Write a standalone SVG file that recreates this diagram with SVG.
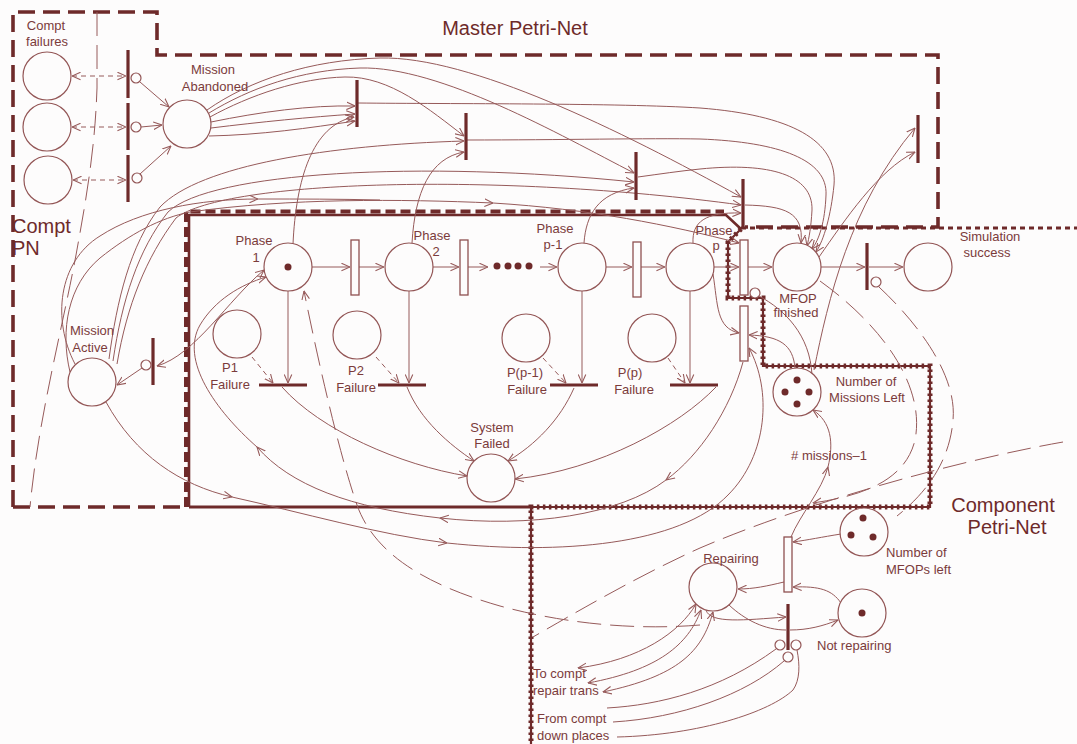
<svg xmlns="http://www.w3.org/2000/svg" width="1077" height="744" viewBox="0 0 1077 744">
<defs>
<marker id="ar" viewBox="0 0 10 10" refX="9.5" refY="5" markerWidth="9" markerHeight="9" markerUnits="userSpaceOnUse" orient="auto-start-reverse"><path d="M0,0.8 L9.5,5 L0,9.2" fill="none" stroke="#965a5a" stroke-width="1.2"/></marker>
</defs>
<style>
.c{fill:none;stroke:#965a5a;stroke-width:1}
.a{marker-end:url(#ar)}
.b{marker-start:url(#ar);marker-end:url(#ar)}
.d{stroke-dasharray:5 4}
.ld{stroke-dasharray:24 9}
.pl{fill:#fdfcfc;stroke:#935656;stroke-width:1.2}
.tb{stroke:#6e2a2a;stroke-width:3.2;fill:none}
.tr{fill:#fdfcfc;stroke:#8f5050;stroke-width:1.3}
.inh{fill:#fdfcfc;stroke:#935656;stroke-width:1.2}
.tok{fill:#6e2a2a}
.bd{fill:none;stroke:#6e2a2a;stroke-width:3.6;stroke-dasharray:17 8}
.bs{fill:none;stroke:#6e2a2a;stroke-width:2.6}
.bdi{fill:none;stroke:#6e2a2a;stroke-width:4;stroke-dasharray:10 5}
.dt{fill:none;stroke:#6e2a2a;stroke-width:5;stroke-dasharray:2.5 3.5}
.dl{fill:none;stroke:#6e2a2a;stroke-width:3;stroke-dasharray:5 4}
.t{font-family:"Liberation Sans",Arial,sans-serif;font-size:13px;fill:#7b3b3b;text-anchor:middle}
.s{text-anchor:start}
.big{font-family:"Liberation Sans",Arial,sans-serif;font-size:20px;fill:#6e2a2a}
</style>
<rect width="1077" height="744" fill="#fdfcfc"/>

<g id="boundaries">
<path class="bd" d="M13,507 V12 H157 V55 H938 V227 H745"/>
<path class="bd" d="M13,507 H186"/>
<path class="bs" d="M189,507 V215 H726 L741,229"/>
<path class="bdi" d="M186,507 V211.5 H724"/>
<path class="bs" style="stroke-width:3" d="M189,507 H531"/>
<path class="bs" style="stroke-width:2.2" d="M741,229 L728,242 V298 H763 V366 H930 V507 H531 V744"/>
<path class="dt" d="M741,229 L728,242 V298 H763 V366 H930 V507 H531 V744"/>
<path class="dl" d="M741,228 H1077"/>
</g>

<g id="connectors">
<path class="c d b" d="M72,76 H126"/>
<path class="c d b" d="M72,127 H126"/>
<path class="c d b" d="M73,180 H126"/>
<path class="c a" d="M140,82 L169,107"/>
<path class="c a" d="M141,127 L162,125"/>
<path class="c a" d="M140,174 L171,146"/>
<path class="c ld" d="M97,12 V88 C95,150 86,200 76,255 C62,330 38,420 30,507"/>
<path class="c a" d="M211,122 C260,112 310,105 355,106"/>
<path class="c a" d="M211,128 C260,122 310,117 355,114"/>
<path class="c a" d="M209,136 C260,135 310,128 355,121"/>
<path class="c a" d="M210,117 C250,95 300,78 345,77 C390,76 430,110 464,136"/>
<path class="c a" d="M209,113 C250,88 300,70 360,68 C440,66 560,135 634,173"/>
<path class="c a" d="M207,110 C250,80 310,60 380,58 C470,56 620,130 741,197"/>
<path class="c a" d="M358,103 C450,104 620,103 700,108 C790,115 838,140 834,185 C831,215 824,240 816,252"/>
<path class="c a" d="M467,140 C560,140 650,138 700,139 C780,142 828,160 826,195 C825,222 819,240 812,249"/>
<path class="c a" d="M638,177 C660,174 680,171 700,169 C770,162 813,175 812,210 C811,228 809,238 807,246"/>
<path class="c a" d="M745,205 C785,206 804,212 801,243"/>
<path class="c a" d="M293,244 C296,180 312,125 354,117"/>
<path class="c a" d="M412,243 C415,192 430,158 464,152"/>
<path class="c a" d="M584,243 C586,215 598,193 634,188"/>
<path class="c a" d="M693,243 C692,222 705,212 741,213"/>
<path class="c a" d="M819,257 C845,220 878,170 915,152"/>
<path class="c a" d="M814,370 C828,300 850,205 915,128"/>
<path class="c a" d="M109,359 C117,300 130,245 160,207 C200,165 330,145 464,141"/>
<path class="c a" d="M113,361 C122,300 138,250 168,212 C210,172 420,160 634,182"/>
<path class="c a" d="M117,364 C127,305 146,258 176,218 C225,180 500,172 741,205"/>
<path class="c a" d="M70,372 C60,330 68,285 100,258 C130,234 160,218 190,212 C290,198 400,199 493,203"/>
<path class="c a" d="M493,203 C590,209 670,225 739,243"/>
<path class="c a" d="M75,364 C52,320 58,262 100,236 C140,210 200,199 258,199"/>
<path class="c" d="M258,199 C300,199 340,199 380,200"/>
<path class="c b" d="M157,366 C195,355 228,300 264,270"/>
<path class="c a" d="M142,368 L117,385"/>
<path class="c a" d="M106,402 C135,455 180,485 232,497"/>
<path class="c a" d="M232,497 C300,512 380,535 447,543"/>
<path class="c a" d="M447,543 C560,555 680,545 728,495 C768,455 772,390 749,348"/>
<path class="c a" d="M743,362 C730,410 700,455 666,480"/>
<path class="c a" d="M666,480 C620,515 530,528 440,518"/>
<path class="c a" d="M440,518 C350,508 290,485 257,447"/>
<path class="c a" d="M257,447 C215,410 180,360 200,325 C215,300 240,285 266,277"/>
<path class="c a" d="M312,267 H350"/>
<path class="c a" d="M359,267 H384"/>
<path class="c a" d="M433,267 H459"/>
<path class="c a" d="M468,267 H488"/>
<path class="c a" d="M540,267 H557"/>
<path class="c a" d="M606,267 H632"/>
<path class="c a" d="M641,267 H665"/>
<path class="c a" d="M714,267 H739"/>
<path class="c a" d="M748,267 H772"/>
<path class="c a" d="M821,267 H865"/>
<path class="c a" d="M869,267 H903"/>
<path class="c a" d="M288,291 V383"/>
<path class="c a" d="M409,291 V383"/>
<path class="c a" d="M582,291 V383"/>
<path class="c a" d="M690,291 V383"/>
<path class="c d a" d="M252,357 L273,383"/>
<path class="c d a" d="M376,357 L399,383"/>
<path class="c d a" d="M543,358 L566,383"/>
<path class="c d a" d="M668,358 L685,383"/>
<path class="c a" d="M282,387 C320,430 400,465 467,476"/>
<path class="c a" d="M407,387 C420,420 450,445 474,461"/>
<path class="c a" d="M574,388 C560,420 535,445 508,461"/>
<path class="c a" d="M716,387 C680,425 600,470 515,479"/>
<path class="c a" d="M713,274 C718,305 716,328 739,333"/>
<path class="c a" d="M795,368 C793,345 780,336 749,335"/>
<path class="c" d="M812,375 C810,335 785,310 759,296"/>
<path class="c a" d="M791,537 C800,515 822,490 828,467"/>
<path class="c a" d="M828,467 C834,442 831,422 813,410"/>
<path class="c a" d="M784,582 C767,586 754,589 738,589"/>
<path class="c a" d="M841,534 C822,537 808,540 793,542"/>
<path class="c a" d="M841,603 C832,590 820,586 793,587"/>
<path class="c a" d="M706,610 C710,624 745,620 786,617"/>
<path class="c" d="M729,605 C745,620 765,630 786,630"/>
<path class="c a" d="M790,630 C808,630 823,626 838,620"/>
<path class="c b" d="M578,668 C640,660 680,632 696,604"/>
<path class="c b" d="M588,683 C658,670 688,645 701,610"/>
<path class="c b" d="M603,692 C678,676 702,652 713,612"/>
<path class="c" d="M607,708 C660,705 720,690 776,649"/>
<path class="c" d="M613,722 C680,718 745,695 784,661"/>
<path class="c" d="M617,737 C700,735 770,712 793,690 C800,680 800,665 797,650"/>
<path class="c ld a" d="M700,625 C640,630 570,625 500,606 C430,586 375,556 357,505 C342,462 322,380 304,291"/>
<path class="c ld" d="M1063,442 C950,462 800,505 700,548 C640,575 580,610 533,637"/>
<path class="c ld a" d="M820,281 C888,330 925,390 915,440 C905,482 860,496 813,503"/>
<path class="c ld" d="M879,287 C925,330 957,380 953,420 C950,458 930,490 897,516"/>
</g>

<g id="compt-failures">
<circle class="pl" cx="47" cy="76" r="24"/>
<circle class="pl" cx="47" cy="127" r="24"/>
<circle class="pl" cx="48" cy="180" r="24"/>
<text class="t" x="46" y="30">Compt</text>
<text class="t" x="47" y="46">failures</text>
</g>
<g id="compt-failure-transitions">
<line class="tb" x1="128" y1="50" x2="128" y2="98"/>
<line class="tb" x1="128" y1="103" x2="128" y2="150"/>
<line class="tb" x1="128" y1="155" x2="128" y2="202"/>
<circle class="inh" cx="136" cy="78" r="5"/>
<circle class="inh" cx="136" cy="127" r="5"/>
<circle class="inh" cx="137" cy="178" r="5"/>
</g>
<g id="mission-abandoned">
<circle class="pl" cx="187" cy="124" r="24"/>
<text class="t" x="213" y="74">Mission</text>
<text class="t" x="215" y="91">Abandoned</text>
</g>
<g id="master-transitions">
<line class="tb" x1="357" y1="80" x2="357" y2="127"/>
<line class="tb" x1="466" y1="113" x2="466" y2="160"/>
<line class="tb" x1="636" y1="152" x2="636" y2="200"/>
<line class="tb" x1="743" y1="179" x2="743" y2="229"/>
<line class="tb" x1="918" y1="115" x2="918" y2="163"/>
</g>
<g id="mission-active">
<circle class="pl" cx="92" cy="382" r="24"/>
<text class="t" x="92" y="335">Mission</text>
<text class="t" x="90" y="352">Active</text>
</g>
<g id="start-transition">
<line class="tb" x1="153" y1="338" x2="153" y2="385"/>
<circle class="inh" cx="146" cy="365" r="5"/>
</g>
<g id="phase1">
<circle class="pl" cx="288" cy="267" r="24"/>
<circle class="tok" cx="288" cy="267" r="3.5"/>
<text class="t" x="254" y="245">Phase</text>
<text class="t" x="256" y="262">1</text>
</g>
<g id="phase2">
<circle class="pl" cx="409" cy="267" r="24"/>
<text class="t" x="432" y="240">Phase</text>
<text class="t" x="436" y="256">2</text>
</g>
<g id="phase-p-1">
<circle class="pl" cx="582" cy="267" r="24"/>
<text class="t" x="555" y="233">Phase</text>
<text class="t" x="553" y="249">p-1</text>
</g>
<g id="phase-p">
<circle class="pl" cx="690" cy="267" r="24"/>
<text class="t" x="714" y="235">Phase</text>
<text class="t" x="716" y="250">p</text>
</g>
<g id="phase-transitions">
<rect class="tr" x="351" y="240" width="8" height="55"/>
<rect class="tr" x="460" y="240" width="8" height="55"/>
<rect class="tr" x="633" y="242" width="8" height="55"/>
<rect class="tr" x="740" y="240" width="8" height="55"/>
<rect class="tr" x="740" y="306" width="8" height="55"/>
<circle class="inh" cx="755" cy="293" r="5"/>
</g>
<g id="ellipsis">
<circle class="tok" cx="497" cy="266" r="3.5"/>
<circle class="tok" cx="508" cy="266" r="3.5"/>
<circle class="tok" cx="518" cy="266" r="3.5"/>
<circle class="tok" cx="529" cy="266" r="3.5"/>
</g>
<g id="mfop-finished">
<circle class="pl" cx="797" cy="267" r="24"/>
<text class="t" x="798" y="303">MFOP</text>
<text class="t" x="796" y="317">finished</text>
</g>
<g id="sim-transition">
<line class="tb" x1="867" y1="243" x2="867" y2="290"/>
<circle class="inh" cx="876" cy="282" r="5"/>
</g>
<g id="simulation-success">
<circle class="pl" cx="928" cy="267" r="24"/>
<text class="t" x="990" y="241">Simulation</text>
<text class="t" x="987" y="257">success</text>
</g>
<g id="p1-failure">
<circle class="pl" cx="237" cy="334" r="24"/>
<text class="t" x="230" y="372">P1</text>
<text class="t" x="230" y="389">Failure</text>
<line class="tb" x1="259" y1="385" x2="307" y2="385"/>
</g>
<g id="p2-failure">
<circle class="pl" cx="357" cy="335" r="24"/>
<text class="t" x="356" y="375">P2</text>
<text class="t" x="356" y="392">Failure</text>
<line class="tb" x1="378" y1="385" x2="426" y2="385"/>
</g>
<g id="pp-1-failure">
<circle class="pl" cx="526" cy="338" r="24"/>
<text class="t" x="525" y="377">P(p-1)</text>
<text class="t" x="527" y="394">Failure</text>
<line class="tb" x1="550" y1="385" x2="598" y2="385"/>
</g>
<g id="pp-failure">
<circle class="pl" cx="652" cy="338" r="24"/>
<text class="t" x="630" y="377">P(p)</text>
<text class="t" x="634" y="394">Failure</text>
<line class="tb" x1="670" y1="385" x2="718" y2="385"/>
</g>
<g id="system-failed">
<circle class="pl" cx="491" cy="478" r="24"/>
<text class="t" x="492" y="432">System</text>
<text class="t" x="492" y="448">Failed</text>
</g>
<g id="missions-left">
<circle class="pl" cx="797" cy="392" r="24"/>
<circle class="tok" cx="797" cy="380" r="3.5"/>
<circle class="tok" cx="785" cy="392" r="3.5"/>
<circle class="tok" cx="809" cy="392" r="3.5"/>
<circle class="tok" cx="797" cy="404" r="3.5"/>
<text class="t" x="866" y="386">Number of</text>
<text class="t" x="867" y="402">Missions Left</text>
</g>
<g id="missions-label">
<text class="t" x="829" y="460"># missions–1</text>
</g>
<g id="repairing">
<circle class="pl" cx="713" cy="587" r="24"/>
<text class="t" x="731" y="563">Repairing</text>
</g>
<g id="repair-transitions">
<rect class="tr" x="784" y="537" width="8" height="55"/>
<line class="tb" x1="788" y1="604" x2="788" y2="650"/>
<circle class="inh" cx="780" cy="645" r="5"/>
<circle class="inh" cx="796" cy="645" r="5"/>
<circle class="inh" cx="788" cy="657" r="5"/>
</g>
<g id="mfops-left">
<circle class="pl" cx="864" cy="532" r="24"/>
<circle class="tok" cx="863" cy="518" r="3.5"/>
<circle class="tok" cx="851" cy="535" r="3.5"/>
<circle class="tok" cx="873" cy="537" r="3.5"/>
<text class="t s" x="886" y="557">Number of</text>
<text class="t s" x="886" y="574">MFOPs left</text>
</g>
<g id="not-repairing">
<circle class="pl" cx="862" cy="613" r="24"/>
<circle class="tok" cx="862" cy="613" r="3.5"/>
<text class="t s" x="817" y="650">Not repairing</text>
</g>
<g id="external-labels">
<text class="t s" x="533" y="678">To compt</text>
<text class="t s" x="533" y="695">repair trans</text>
<text class="t s" x="537" y="723">From compt</text>
<text class="t s" x="537" y="740">down places</text>
</g>
<g id="titles">
<text class="big" x="515" y="35" text-anchor="middle">Master Petri-Net</text>
<text class="big" x="12" y="233">Compt</text>
<text class="big" x="12" y="255">PN</text>
<text class="big" x="1003" y="512" text-anchor="middle">Component</text>
<text class="big" x="1007" y="534" text-anchor="middle">Petri-Net</text>
</g>
</svg>
